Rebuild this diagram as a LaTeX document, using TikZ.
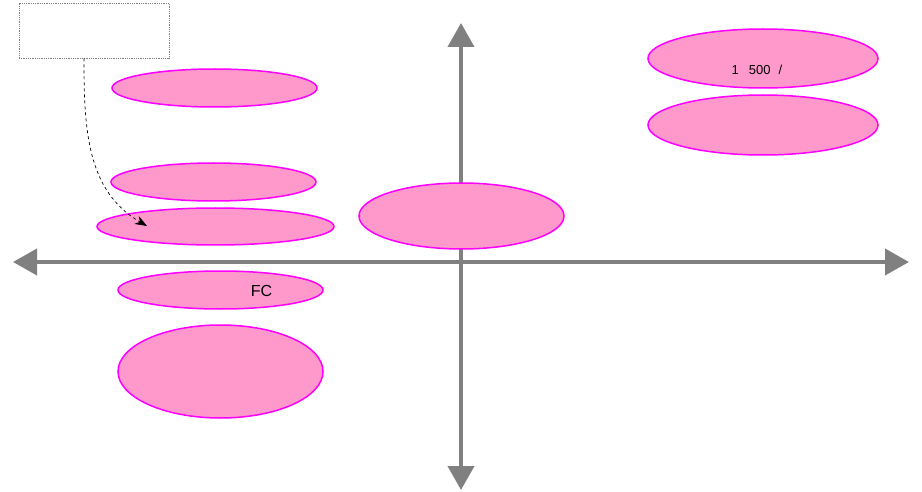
\documentclass[tikz,border=0pt]{standalone}
\usepackage{fontspec}
\setmainfont{Liberation Sans}
\usetikzlibrary{arrows.meta, shapes.geometric, positioning, calc}
\definecolor{axisgray}{RGB}{128,128,128}
\definecolor{blobpink}{RGB}{255,153,204}
\definecolor{blobedge}{RGB}{255,0,255}

\begin{document}
\begin{tikzpicture}[x=1pt,y=-1pt,
	blob/.style={ellipse, draw=blobedge, line width=1.5pt, fill=blobpink, inner sep=0pt},
	axis/.style={draw=axisgray, line width=4pt, {Triangle[length=24pt,width=26pt]}-{Triangle[length=24pt,width=26pt]}},
	notebox/.style={draw=gray, densely dotted, line width=0.8pt, minimum width=150pt, minimum height=55pt, inner sep=0pt}]
	\useasboundingbox (0,0) rectangle (922,492);
	% axes
	\draw[axis] (13,262)--(909,262);
	\draw[axis] (461,23)--(461,490);
	% left column
	\node[notebox] (note) at (94,30.5) {};
	\node[blob, minimum width=205pt, minimum height=38pt] (lefta) at (214.5,88) {};
	\node[blob, minimum width=205pt, minimum height=38pt] (leftb) at (213.5,182) {};
	\node[blob, minimum width=237pt, minimum height=37pt] (leftc) at (215.5,226.5) {};
	\node[blob, minimum width=205pt, minimum height=38pt] (fc) at (220.5,290) {};
	\node[blob, minimum width=205pt, minimum height=93pt] (lefte) at (220.5,371.5) {};
	\node (fctext) at (261.5,291) {\fontsize{16}{18}\selectfont FC};
	% middle and right
	\node[blob, minimum width=205pt, minimum height=66pt] (mid) at (461.5,216) {};
	\node[blob, minimum width=230pt, minimum height=59pt] (faretop) at (763,58.5) {};
	\node[blob, minimum width=230pt, minimum height=60pt] (farebot) at (763,125) {};
	\node (faretext) at (757,70) {\fontsize{13}{15}\selectfont 1\hspace{10pt}500\hspace{8pt}/};
	% pointer into leftc
	\coordinate (tipc) at (147,226);
	\draw[dashed, line width=0.7pt, -{Stealth[length=12pt,width=9pt]}] ($(note.south)+(-10,0)$) to[out=-90,in=150] (tipc);
\end{tikzpicture}
\end{document}
